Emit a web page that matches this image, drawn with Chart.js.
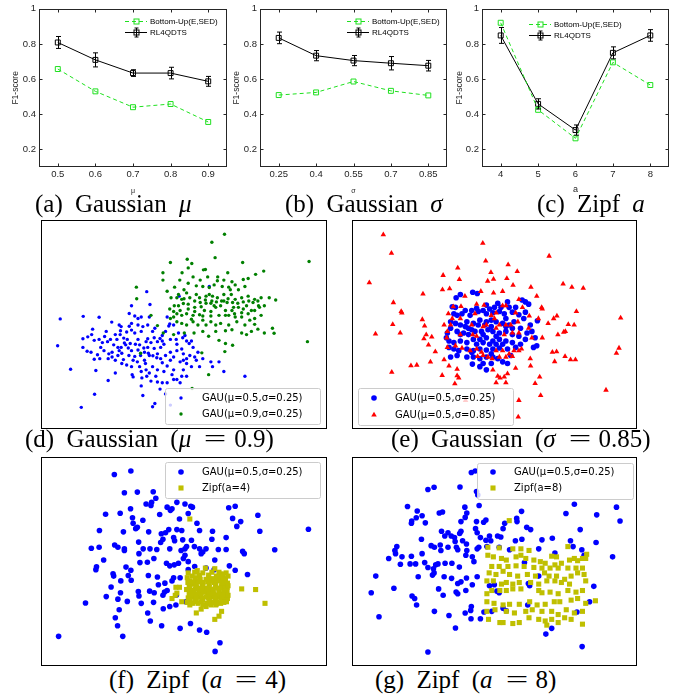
<!DOCTYPE html>
<html>
<head>
<meta charset="utf-8">
<script src="https://cdn.jsdelivr.net/npm/chart.js@4.4.1/dist/chart.umd.min.js"></script>
<style>
  body { margin: 0; background: #fff; }
  #page { position: relative; width: 678px; height: 694px; overflow: hidden; }
  canvas { position: absolute; }
  .cap { position: absolute; font-family: "Liberation Serif", "Times New Roman", serif; font-size: 25px;
         line-height: 24px; white-space: nowrap; color: #000; word-spacing: 6px; }
  .eq { display: inline-block; width: 24px; margin: 0 7px 0 12px; text-align: center; transform: scaleX(1.6); }
</style>
</head>
<body>
<div id="page">
  <canvas id="chartA" width="232" height="200" style="left:0;top:0"></canvas>
  <canvas id="chartB" width="227" height="200" style="left:225px;top:0"></canvas>
  <canvas id="chartC" width="229" height="200" style="left:449px;top:0"></canvas>
  <canvas id="chartD" width="286" height="209" style="left:41px;top:220px"></canvas>
  <canvas id="chartE" width="285" height="209" style="left:352px;top:220px"></canvas>
  <canvas id="chartF" width="286" height="209" style="left:41px;top:457px"></canvas>
  <canvas id="chartG" width="285" height="209" style="left:352px;top:457px"></canvas>

  <div class="cap" style="left:35px;top:192px">(a) Gaussian <i>μ</i></div>
  <div class="cap" style="left:285px;top:192px">(b) Gaussian <i>σ</i></div>
  <div class="cap" style="left:537px;top:192px">(c) Zipf <i>a</i></div>
  <div class="cap" style="left:25px;top:427px">(d) Gaussian (<i>μ</i><span class="eq">=</span>0.9)</div>
  <div class="cap" style="left:391px;top:427px">(e) Gaussian (<i>σ</i><span class="eq">=</span>0.85)</div>
  <div class="cap" style="left:109px;top:668px">(f) Zipf (<i>a</i><span class="eq">=</span>4)</div>
  <div class="cap" style="left:375px;top:668px">(g) Zipf (<i>a</i><span class="eq">=</span>8)</div>
</div>

<script>
// ---- top row: F1-score line charts ----
const yTicks = [0.2, 0.4, 0.6, 0.8, 1];
const muValues = [0.5, 0.6, 0.7, 0.8, 0.9];
const sigmaValues = [0.25, 0.4, 0.55, 0.7, 0.85];
const zipfValues = [4, 5, 6, 7, 8];

const bottomUpMu = [0.657, 0.530, 0.440, 0.458, 0.356];
const rlMu = [0.808, 0.709, 0.634, 0.634, 0.587];
const rlMuErr = [0.034, 0.040, 0.019, 0.033, 0.028];

const bottomUpSigma = [0.509, 0.524, 0.586, 0.533, 0.507];
const rlSigma = [0.834, 0.733, 0.705, 0.690, 0.676];
const rlSigmaErr = [0.033, 0.029, 0.029, 0.038, 0.030];

const bottomUpZipf = [0.920, 0.425, 0.263, 0.695, 0.566];
const rlZipf = [0.848, 0.459, 0.310, 0.749, 0.848];
const rlZipfErr = [0.045, 0.029, 0.029, 0.034, 0.033];

// ---- scatter samples, [x, y] (reference pixels x3) ----
const gauD05 = [[80,281],[72,365],[151,273],[200,276],[112,438],[145,557],[186,516],[228,473],[190,442],[239,291],
  [347,196],[300,240],[357,236],[293,264],[310,272],[330,275],[320,280],[355,275],[268,305],[293,304],[266,318],
  [250,330],[222,320],[217,336],[180,313],[177,330],[165,337],[150,343],[185,348],[200,345],[150,370],[163,382],
  [195,393],[185,407],[230,390],[240,385],[226,352],[276,341],[278,356],[258,370],[262,380],[270,388],[290,372],
  [300,380],[320,378],[310,398],[305,410],[275,408],[285,425],[300,430],[330,445],[340,410],[328,395],[340,385],
  [350,370],[345,352],[320,345],[330,320],[310,325],[300,316],[335,305],[365,320],[370,340],[380,352],[395,333],
  [405,320],[415,303],[420,345],[390,370],[370,373],[380,390],[390,405],[405,395],[420,410],[440,360],[455,375],
  [460,390],[420,385],[430,400],[450,415],[470,420],[460,440],[430,440],[400,445],[380,440],[365,430],[355,450],
  [347,460],[332,465],[305,462],[330,490],[360,475],[365,555],[372,545],[380,478],[395,480],[405,515],[430,470],
  [450,480],[455,460],[480,395],[490,370],[485,350],[470,350],[505,385],[500,410],[510,430],[520,405],[545,415],
  [550,430],[570,415],[585,445],[650,460],[420,550],[540,180],[447,210],[418,297],[410,275],[430,300],[445,325],
  [465,333],[478,358],[350,343],[360,355],[287,345],[250,410],[270,420],[302,455],[250,450],[240,400],[210,355],
  [202,405],[228,405],[262,300],[285,322],[355,395],[395,350],[440,380],[470,405],[325,430],[343,420],
  [255,345],[245,362],[268,370],[282,362],[296,358],[312,360],[325,362],[338,372],[352,388],[366,396],[378,402],
  [395,418],[410,428],[425,455],[440,470],[470,460],[485,430],[495,400],[460,410],[438,345],[458,340],[400,360],
  [388,342],[372,310],[350,300],[320,300],[300,295],[265,330],[235,345],[205,370],[175,385],[215,380],[258,395],
  [292,395],[318,415],[345,440],[375,460],[410,480],[388,500],[335,520]];
const gauD09 = [[587,17],[548,42],[558,90],[643,105],[848,102],[420,105],[472,95],[486,108],[475,122],[522,128],
  [528,127],[397,137],[456,137],[449,160],[535,150],[566,150],[597,137],[683,142],[708,132],[660,155],[645,158],
  [610,165],[600,182],[580,180],[555,175],[520,180],[500,178],[540,183],[565,162],[462,190],[433,182],[410,195],
  [422,215],[440,215],[455,220],[470,200],[500,205],[510,215],[530,210],[550,210],[565,215],[585,205],[608,205],
  [630,190],[650,180],[660,210],[640,215],[620,220],[595,230],[575,240],[555,240],[530,232],[515,243],[495,245],
  [475,235],[460,233],[445,240],[432,240],[418,250],[430,258],[450,255],[470,265],[490,270],[510,268],[525,255],
  [545,258],[560,245],[590,255],[610,255],[630,245],[645,250],[660,265],[680,255],[695,245],[710,240],[725,215],
  [745,222],[700,215],[690,225],[675,230],[655,240],[615,245],[600,270],[620,275],[640,275],[665,285],[680,280],
  [700,270],[680,298],[690,313],[670,320],[655,330],[640,325],[610,315],[590,318],[575,295],[560,300],[545,290],
  [520,285],[490,290],[470,300],[455,295],[440,290],[430,275],[420,280],[380,302],[398,325],[430,330],[463,325],
  [493,325],[520,320],[538,335],[570,348],[590,358],[612,363],[588,383],[517,387],[538,455],[487,498],[328,388],
  [360,270],[315,182],[316,218],[397,160],[735,310],[740,326],[843,352],[710,325],[540,205],[548,225],[585,225],
  [445,205],[462,218],[480,215],[495,225],[512,230],[528,222],[545,232],[562,228],[578,225],[598,218],[612,230],
  [628,232],[645,228],[662,225],[680,220],[692,240],[670,255],[640,262],[618,265],[590,270],[570,270],[545,272],
  [520,272],[495,258],[475,250],[455,270],[440,265],[485,282],[505,300],[530,300],[560,320],[600,300],[625,290],
  [650,300],[605,190],[585,160],[512,160],[490,150],[475,170],[620,175]];

const gauE025 = [[398,198],[412,202],[360,205],[347,215],[440,238],[465,245],[475,232],[505,228],[550,222],[560,228],
  [570,235],[335,243],[340,265],[350,270],[375,255],[395,255],[415,258],[440,265],[460,262],[480,258],[495,265],
  [520,260],[540,268],[555,280],[597,287],[330,290],[345,295],[360,300],[380,290],[400,295],[420,285],[440,290],
  [470,290],[490,295],[510,300],[525,290],[545,310],[565,325],[330,310],[350,320],[370,325],[385,330],[405,320],
  [425,320],[445,315],[460,320],[480,325],[500,320],[520,330],[540,335],[590,340],[317,340],[340,355],[360,350],
  [380,355],[400,345],[420,345],[440,340],[460,350],[480,345],[500,350],[520,355],[585,370],[595,365],[325,370],
  [355,380],[380,375],[400,380],[420,375],[440,378],[460,375],[480,372],[505,375],[330,400],[400,400],[420,405],
  [440,400],[460,400],[397,422],[430,420],[440,440],[490,415],[505,420],[470,360],[450,360],[410,360],[430,330],
  [415,300],[455,305],[385,310],[500,305],[470,335],[360,330],[395,385],[455,390],[430,355],[490,360],
  [345,245],[365,265],[390,270],[410,248],[430,255],[450,250],[485,245],[510,245],[530,245],[560,260],[575,300],
  [580,320],[560,345],[545,360],[530,370],[515,395],[475,405],[455,420],[420,430],[380,400],[350,395],[340,375],
  [325,350],[320,325],[375,305],[395,315],[435,300],[455,285],[500,280],[520,310]];
const gauE085 = [[123,18],[429,45],[148,76],[633,85],[80,168],[438,100],[507,112],[352,122],[535,133],[454,136],
  [307,145],[357,158],[444,163],[462,157],[503,155],[522,176],[676,172],[703,182],[738,185],[577,182],[305,190],
  [327,187],[245,203],[374,210],[423,195],[462,200],[490,195],[595,210],[154,230],[178,258],[180,262],[338,243],
  [362,242],[410,235],[433,238],[490,240],[540,220],[551,245],[610,245],[612,250],[323,265],[335,280],[405,265],
  [455,270],[465,280],[470,262],[500,240],[530,262],[572,272],[600,280],[657,272],[647,280],[717,258],[853,278],
  [152,298],[243,283],[250,303],[310,300],[320,320],[330,300],[360,280],[395,300],[430,305],[440,300],[480,300],
  [500,300],[515,300],[537,290],[570,310],[630,295],[692,298],[710,300],[99,328],[175,325],[255,330],[272,337],
  [248,343],[318,340],[360,330],[398,330],[410,335],[470,310],[495,330],[520,325],[540,325],[580,340],[612,340],
  [660,330],[678,322],[683,320],[262,362],[283,383],[320,370],[345,365],[365,372],[390,380],[410,375],[425,385],
  [470,380],[490,380],[510,390],[525,380],[540,380],[548,375],[643,385],[656,383],[848,372],[840,388],[208,427],
  [226,425],[268,415],[310,408],[325,428],[350,438],[413,398],[430,395],[445,400],[458,405],[480,400],[500,400],
  [520,398],[530,435],[575,405],[576,428],[682,398],[699,408],[714,408],[650,414],[149,447],[304,457],[350,458],
  [355,465],[460,440],[475,460],[482,465],[495,462],[505,452],[590,482],[604,462],[343,483],[470,480],[500,480],
  [540,535],[607,520],[808,503],[538,587],[376,535]];

const gauF = [[247,93],[298,82],[278,150],[318,148],[367,147],[375,167],[345,185],[360,190],[362,180],[410,195],
  [420,205],[440,180],[465,185],[483,192],[488,195],[475,215],[220,217],[265,214],[297,200],[303,228],[305,245],
  [318,258],[335,236],[387,218],[425,200],[448,232],[502,245],[600,197],[620,192],[612,230],[637,240],[625,255],
  [690,220],[696,270],[846,264],[201,268],[275,272],[313,262],[353,272],[392,278],[405,275],[415,265],[440,265],
  [455,268],[430,290],[433,300],[458,297],[485,298],[510,268],[550,270],[548,295],[592,290],[176,323],[200,320],
  [248,313],[258,320],[278,325],[278,330],[322,304],[336,325],[323,340],[357,325],[378,327],[390,305],[397,295],
  [418,325],[453,330],[465,325],[470,318],[494,318],[510,325],[515,340],[520,335],[530,325],[568,327],[592,327],
  [643,333],[648,340],[742,328],[214,360],[192,381],[190,390],[283,382],[298,392],[326,368],[349,367],[369,355],
  [408,370],[418,378],[432,375],[445,370],[460,355],[465,345],[475,390],[495,380],[530,385],[555,390],[475,365],
  [557,360],[602,378],[620,392],[658,405],[243,403],[245,410],[267,425],[299,423],[290,408],[352,408],[380,413],
  [383,437],[403,432],[425,425],[430,415],[450,415],[237,444],[222,474],[266,462],[321,458],[323,472],[356,457],
  [370,462],[397,470],[402,460],[410,455],[158,494],[258,482],[287,489],[330,495],[368,492],[398,512],[418,505],
  [437,500],[262,515],[350,525],[250,540],[358,550],[393,565],[257,565],[273,598],[75,598],[450,573],[482,558],
  [510,578],[532,585],[558,645],[573,618],[438,470],[468,490]];
const zipfF4 = [[480,232],[503,393],[528,385],[557,387],[583,405],[577,403],[487,410],[510,408],[538,407],[562,410],
  [480,425],[500,425],[520,430],[545,425],[570,425],[590,430],[437,445],[448,445],[480,445],[500,445],[520,447],
  [540,445],[560,445],[580,445],[595,445],[478,465],[495,465],[515,465],[535,465],[555,465],[575,465],[592,465],
  [440,463],[435,470],[480,485],[500,483],[520,485],[540,483],[560,485],[580,485],[593,490],[425,480],[455,490],
  [505,495],[533,495],[575,495],[640,450],[683,452],[712,495],[500,525],[515,513],[530,505],[578,520],[570,535],
  [557,545],[490,435],[510,455],[530,455],[550,455],[570,455],[585,455],[490,475],[510,475],[530,475],[550,475],
  [570,475],[590,475],[485,455],[560,435],[540,435],[520,437],[500,437],[585,435],[530,420],[550,418],[575,415],
  [488,495],[548,492],[562,497],[590,418],[478,440],[505,470],[525,460],[545,470],[565,470],[585,470],[497,450],
  [518,442],[538,452],[558,448],[578,440],[482,470],[587,485],[595,455],
  [475,400],[495,398],[520,400],[548,398],[570,398],[592,400],[472,415],[497,415],[512,420],[538,415],[562,420],
  [582,422],[474,430],[488,428],[510,428],[535,428],[555,430],[580,430],[596,432],[470,452],[492,458],[512,448],
  [532,448],[552,452],[572,448],[592,448],[475,478],[498,478],[518,480],[538,478],[558,478],[578,478],[596,480],
  [472,492],[495,490],[515,490],[540,490],[565,490],[585,492],[480,500],[520,500],[545,500],[560,500],[598,470],
  [598,440],[598,410]];

const gauG = [[392,87],[404,82],[258,140],[277,133],[357,132],[408,146],[412,157],[195,193],[225,207],[208,238],
  [207,245],[222,228],[240,222],[250,244],[293,213],[303,210],[372,195],[378,213],[373,227],[416,190],[430,242],
  [437,235],[408,240],[360,240],[300,270],[320,275],[330,285],[310,285],[340,290],[360,270],[356,277],[342,302],
  [365,300],[377,310],[405,262],[410,275],[420,290],[437,298],[452,300],[448,285],[473,285],[483,288],[495,245],
  [490,262],[532,230],[533,240],[547,208],[563,258],[575,265],[548,295],[528,300],[510,328],[478,320],[556,368],
  [162,318],[156,330],[137,355],[158,340],[178,350],[207,348],[240,340],[268,315],[278,320],[298,330],[296,313],
  [320,320],[346,320],[350,328],[375,345],[378,330],[410,325],[415,320],[440,318],[238,295],[173,373],[203,372],
  [220,372],[248,368],[258,383],[275,387],[277,400],[282,375],[289,372],[311,370],[332,370],[355,382],[395,350],
  [400,365],[97,410],[228,412],[272,407],[308,412],[331,417],[350,433],[360,428],[377,416],[395,437],[410,412],
  [153,448],[209,472],[217,480],[223,500],[291,450],[305,470],[345,460],[350,465],[375,455],[448,440],[463,437],
  [471,457],[478,462],[83,462],[107,537],[278,520],[323,533],[373,525],[390,517],[392,505],[391,543],[420,543],
  [431,522],[455,520],[343,572],[258,647],[622,591],[640,573],[734,630],[610,297],[642,292],[600,325],[650,338],
  [698,300],[706,318],[733,328],[740,345],[777,305],[828,350],[728,265],[710,186],[684,215],[779,219],[840,195],
  [851,238],[568,433],[572,440],[600,410],[770,442],[757,490],[718,522],[490,510],[500,518],[566,500]];
const zipfG8 = [[509,237],[690,318],[748,342],[443,320],[478,322],[520,325],[545,325],[570,330],[640,348],[655,350],
  [710,355],[735,355],[745,355],[443,345],[460,350],[485,355],[500,360],[530,350],[545,345],[560,355],[585,360],
  [605,365],[620,370],[650,375],[670,370],[695,360],[720,362],[455,380],[478,380],[505,380],[530,378],[555,380],
  [585,383],[610,385],[635,385],[660,385],[690,385],[715,385],[735,385],[447,400],[468,405],[490,395],[510,405],
  [535,410],[565,405],[590,410],[618,400],[632,410],[655,410],[680,420],[700,410],[720,400],[740,405],[440,425],
  [460,425],[485,435],[500,430],[520,435],[540,430],[575,430],[600,435],[625,425],[650,425],[670,430],[695,435],
  [745,425],[455,455],[480,455],[500,455],[520,450],[545,450],[600,455],[610,462],[635,460],[660,465],[690,455],
  [715,460],[735,455],[440,465],[440,490],[462,495],[490,500],[510,498],[540,498],[572,490],[595,500],[620,498],
  [648,490],[665,490],[700,485],[720,480],[745,495],[775,487],[440,520],[465,515],[500,520],[525,525],[560,520],
  [580,515],[610,520],[640,520],[660,530],[685,515],[710,525],[735,520],[445,545],[480,555],[490,555],[520,558],
  [540,555],[570,540],[600,545],[620,550],[640,545],[660,555],[680,540],[700,545],[735,560],[625,563]];

const labelFont = '"Liberation Sans", Arial, sans-serif';
const axisColor = '#262626';
const buGreen = '#1fe01f';

// box, inward ticks, error bars and legend in the MATLAB look
const matlabFrame = {
  id: 'matlabFrame',
  afterDatasetsDraw(chart) {
    const ctx = chart.ctx;
    const ys = chart.scales.y;
    chart.data.datasets.forEach((ds, i) => {
      if (!ds.errorBars) return;
      const meta = chart.getDatasetMeta(i);
      ctx.save();
      ctx.strokeStyle = ds.borderColor;
      ctx.lineWidth = 1;
      ctx.beginPath();
      meta.data.forEach((pt, j) => {
        const v = ds.data[j].y, e = ds.errorBars[j];
        const x = Math.round(pt.x) + 0.5;
        const t = ys.getPixelForValue(v + e), b = ys.getPixelForValue(v - e);
        ctx.moveTo(x, t); ctx.lineTo(x, b);
        ctx.moveTo(x - 2.5, t); ctx.lineTo(x + 2.5, t);
        ctx.moveTo(x - 2.5, b); ctx.lineTo(x + 2.5, b);
      });
      ctx.stroke();
      ctx.restore();
    });
  },
  afterDraw(chart, args, opts) {
    const {ctx, chartArea: a, scales} = chart;
    ctx.save();
    ctx.strokeStyle = axisColor;
    ctx.lineWidth = 1;
    const L = Math.round(a.left) + 0.5, R = Math.round(a.right) - 0.5;
    const T = Math.round(a.top) + 0.5, B = Math.round(a.bottom) - 0.5;
    ctx.strokeRect(L, T, R - L, B - T);
    ctx.beginPath();
    scales.x.ticks.forEach(t => {
      const x = Math.round(scales.x.getPixelForValue(t.value)) + 0.5;
      ctx.moveTo(x, B); ctx.lineTo(x, B - 3);
      ctx.moveTo(x, T); ctx.lineTo(x, T + 3);
    });
    scales.y.ticks.forEach(t => {
      const y = Math.round(scales.y.getPixelForValue(t.value)) + 0.5;
      ctx.moveTo(L, y); ctx.lineTo(L + 3, y);
      ctx.moveTo(R, y); ctx.lineTo(R - 3, y);
    });
    ctx.stroke();

    // legend
    const lg = opts.legend;
    const ds = chart.data.datasets;
    ctx.font = '8px ' + labelFont;
    ctx.textBaseline = 'middle';
    ctx.fillStyle = '#000';
    [lg.y1, lg.y2].forEach((y, i) => {
      const d = ds[i];
      const cx = lg.x + 11;
      ctx.strokeStyle = d.borderColor;
      ctx.setLineDash(d.borderDash || []);
      ctx.beginPath();
      ctx.moveTo(lg.x, y + 0.5); ctx.lineTo(lg.x + 22, y + 0.5);
      ctx.stroke();
      ctx.setLineDash([]);
      ctx.strokeRect(cx - 2, y - 2, 5, 5);
      if (d.errorBars) {
        ctx.beginPath();
        ctx.moveTo(cx + 0.5, y - 4); ctx.lineTo(cx + 0.5, y + 5);
        ctx.moveTo(cx - 1.5, y - 4); ctx.lineTo(cx + 2.5, y - 4);
        ctx.moveTo(cx - 1.5, y + 5); ctx.lineTo(cx + 2.5, y + 5);
        ctx.stroke();
      }
      ctx.fillText(d.label, lg.x + 25, y + 1);
    });
    ctx.restore();
  }
};

function lineChart(id, xs, bu, rl, err, o) {
  const pts = arr => xs.map((x, i) => ({x: x, y: arr[i]}));
  new Chart(document.getElementById(id), {
    type: 'line',
    data: {
      datasets: [
        {label: 'Bottom-Up(E,SED)', data: pts(bu), borderColor: buGreen, borderWidth: 1, borderDash: [4, 3],
         pointStyle: 'rect', pointRadius: 3.5, pointBorderColor: buGreen, pointBorderWidth: 1,
         pointBackgroundColor: 'rgba(0,0,0,0)', tension: 0},
        {label: 'RL4QDTS', data: pts(rl), errorBars: err, borderColor: '#000', borderWidth: 1,
         pointStyle: 'rect', pointRadius: 3.5, pointBorderColor: '#000', pointBorderWidth: 1,
         pointBackgroundColor: 'rgba(0,0,0,0)', tension: 0}
      ]
    },
    options: {
      responsive: false,
      animation: false,
      events: [],
      layout: {padding: {top: 8, right: o.padRight, left: 0, bottom: 0}},
      plugins: {
        legend: {display: false},
        tooltip: {enabled: false},
        matlabFrame: {legend: o.legend}
      },
      scales: {
        x: {
          type: 'linear', min: o.xmin, max: o.xmax,
          afterFit: s => { s.height = 33; },
          afterBuildTicks: s => { s.ticks = xs.map(v => ({value: v})); },
          grid: {display: false, drawTicks: false},
          border: {display: false},
          ticks: {padding: 2, color: axisColor, font: {family: labelFont, size: 9.5}, callback: v => String(v)},
          title: {display: true, text: o.xTitle, color: axisColor, font: {family: labelFont, size: o.xTitleSize},
                  padding: {top: 0, bottom: 5}}
        },
        y: {
          min: 0.1, max: 1,
          afterFit: s => { s.width = o.yWidth; },
          afterBuildTicks: s => { s.ticks = yTicks.map(v => ({value: v})); },
          grid: {display: false, drawTicks: false},
          border: {display: false},
          ticks: {padding: 3, color: axisColor, font: {family: labelFont, size: 9.5}, callback: v => String(v)},
          title: {display: true, text: 'F1-score', color: axisColor, font: {family: labelFont, size: 8.5},
                  padding: {top: o.yTitlePad, bottom: 0}}
        }
      }
    },
    plugins: [matlabFrame]
  });
}

lineChart('chartA', muValues, bottomUpMu, rlMu, rlMuErr,
  {xmin: 0.45, xmax: 0.95, padRight: 4, yWidth: 39, yTitlePad: 11, xTitle: 'μ', xTitleSize: 7,
   legend: {x: 125, y1: 21, y2: 32}});
lineChart('chartB', sigmaValues, bottomUpSigma, rlSigma, rlSigmaErr,
  {xmin: 0.175, xmax: 0.925, padRight: 4, yWidth: 35, yTitlePad: 7, xTitle: 'σ', xTitleSize: 7,
   legend: {x: 122, y1: 21, y2: 32}});
lineChart('chartC', zipfValues, bottomUpZipf, rlZipf, rlZipfErr,
  {xmin: 3.5, xmax: 8.5, padRight: 9, yWidth: 33, yTitlePad: 6, xTitle: 'a', xTitleSize: 9,
   legend: {x: 80, y1: 24, y2: 35}});

// ---- scatter panels ----
function drawMarker(ctx, style, x, y, r, color) {
  ctx.fillStyle = color;
  ctx.beginPath();
  if (style === 'rect') {
    const s = r * Math.SQRT1_2;
    ctx.rect(x - s, y - s, 2 * s, 2 * s);
  } else if (style === 'triangle') {
    ctx.moveTo(x, y - r);
    ctx.lineTo(x + 0.866 * r, y + 0.5 * r);
    ctx.lineTo(x - 0.866 * r, y + 0.5 * r);
    ctx.closePath();
  } else {
    ctx.arc(x, y, r, 0, Math.PI * 2);
  }
  ctx.fill();
}

const scatterFrame = {
  id: 'scatterFrame',
  afterDraw(chart, args, opts) {
    const ctx = chart.ctx;
    const w = chart.width, h = chart.height;
    ctx.save();
    const b = opts.box;
    ctx.fillStyle = 'rgba(255,255,255,0.8)';
    ctx.strokeStyle = '#cccccc';
    ctx.lineWidth = 1;
    ctx.beginPath();
    ctx.roundRect(b[0] + 0.5, b[1] + 0.5, b[2], b[3], 2);
    ctx.fill();
    ctx.stroke();
    ctx.font = '10px "DejaVu Sans", sans-serif';
    ctx.textBaseline = 'middle';
    chart.data.datasets.forEach((d, i) => {
      const y = opts.rows[i];
      drawMarker(ctx, d.pointStyle, opts.markerX, y, d.pointRadius, d.backgroundColor);
      ctx.fillStyle = '#000';
      ctx.fillText(d.label, opts.textX, y + 0.5);
    });
    ctx.strokeStyle = '#000';
    ctx.strokeRect(0.5, 0.5, w - 1, h - 1);
    ctx.restore();
  }
};

function scatterChart(id, series, bounds, legend) {
  new Chart(document.getElementById(id), {
    type: 'scatter',
    data: {
      datasets: series.map((s, i) => ({
        label: s.label,
        data: s.points.map(p => ({x: p[0], y: p[1]})),
        pointStyle: s.style,
        pointRadius: s.radius,
        backgroundColor: s.color,
        borderWidth: 0,
        order: series.length - i
      }))
    },
    options: {
      responsive: false,
      animation: false,
      events: [],
      layout: {padding: 0},
      plugins: {legend: {display: false}, tooltip: {enabled: false}, scatterFrame: legend},
      scales: {
        x: {type: 'linear', display: false, min: bounds[0], max: bounds[1]},
        y: {type: 'linear', display: false, min: bounds[2], max: bounds[3], reverse: true}
      }
    },
    plugins: [scatterFrame]
  });
}

scatterChart('chartD', [
  {label: 'GAU(μ=0.5,σ=0.25)', points: gauD05, style: 'circle', radius: 1.7, color: '#0000ff'},
  {label: 'GAU(μ=0.9,σ=0.25)', points: gauD09, style: 'circle', radius: 1.7, color: '#008000'}
], [33, 891, -15, 612], {box: [124, 168, 155, 36], markerX: 140, textX: 161, rows: [178, 194]});

scatterChart('chartE', [
  {label: 'GAU(μ=0.5,σ=0.25)', points: gauE025, style: 'circle', radius: 2.8, color: '#0000ff'},
  {label: 'GAU(μ=0.5,σ=0.85)', points: gauE085, style: 'triangle', radius: 3.2, color: '#ff0000'}
], [39, 891, -15, 612], {box: [6, 168, 155, 37], markerX: 22, textX: 43, rows: [178, 195]});

scatterChart('chartF', [
  {label: 'GAU(μ=0.5,σ=0.25)', points: gauF, style: 'circle', radius: 2.8, color: '#0000ff'},
  {label: 'Zipf(a=4)', points: zipfF4, style: 'rect', radius: 3.6, color: '#bfbf00'}
], [33, 891, 51, 678], {box: [124, 5, 155, 36], markerX: 140, textX: 161, rows: [15, 31]});

scatterChart('chartG', [
  {label: 'GAU(μ=0.5,σ=0.25)', points: gauG, style: 'circle', radius: 2.8, color: '#0000ff'},
  {label: 'Zipf(a=8)', points: zipfG8, style: 'rect', radius: 3.6, color: '#bfbf00'}
], [36, 891, 51, 678], {box: [125, 6, 156, 36], markerX: 141, textX: 162, rows: [15, 31]});
</script>
</body>
</html>
